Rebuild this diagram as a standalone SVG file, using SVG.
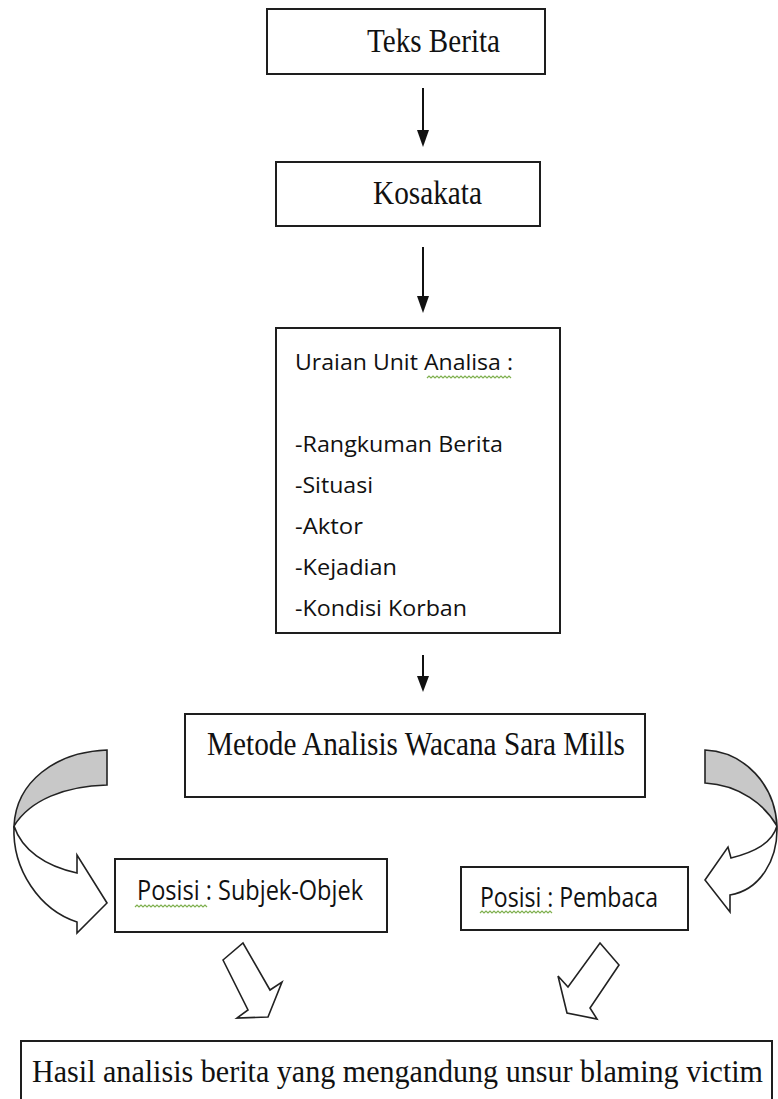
<svg xmlns="http://www.w3.org/2000/svg" width="778" height="1099" viewBox="0 0 778 1099">
<style>
.box{fill:#fff;stroke:#1e1e1e;stroke-width:2}
.serif{font-family:"Liberation Serif","Times New Roman",serif;font-size:29px;fill:#111}
.sans{font-family:"Open Sans","Liberation Sans",sans-serif;font-size:21px;fill:#111}
.sans2{font-family:"Open Sans","Liberation Sans",sans-serif;font-size:28px;fill:#111}
.conn{stroke:#111;stroke-width:2;fill:none}
.head{fill:#111}
.shape{stroke:#222;stroke-width:1.6;stroke-linejoin:miter}
.wavy{stroke:#7fb04f;stroke-width:1.2;fill:none}
</style>
<rect width="778" height="1099" fill="#fff"/>
<g id="node-teks-berita">
<rect class="box" x="267" y="9" width="278" height="65"/>
<text class="serif" transform="translate(367,52) scale(1,1.18)" textLength="133" lengthAdjust="spacingAndGlyphs">Teks Berita</text>
</g>
<g id="node-kosakata">
<rect class="box" x="276" y="162" width="264" height="64"/>
<text class="serif" transform="translate(373,204) scale(1,1.15)" textLength="109" lengthAdjust="spacingAndGlyphs">Kosakata</text>
</g>
<g id="node-uraian">
<rect class="box" x="276" y="328" width="284" height="305"/>
<text class="sans" x="295" y="370" textLength="218" lengthAdjust="spacingAndGlyphs">Uraian Unit Analisa :</text>
<path class="wavy" d="M427,378 l2,-2 l2,2 l2,-2 l2,2 l2,-2 l2,2 l2,-2 l2,2 l2,-2 l2,2 l2,-2 l2,2 l2,-2 l2,2 l2,-2 l2,2 l2,-2 l2,2 l2,-2 l2,2 l2,-2 l2,2 l2,-2 l2,2 l2,-2 l2,2 l2,-2 l2,2 l2,-2 l2,2 l2,-2 l2,2 l2,-2 l2,2 l2,-2 l2,2 l2,-2 l2,2 l2,-2 l2,2 l2,-2 l2,2"/>
<text class="sans" x="295" y="452" textLength="208" lengthAdjust="spacingAndGlyphs">-Rangkuman Berita</text>
<text class="sans" x="295" y="493" textLength="78" lengthAdjust="spacingAndGlyphs">-Situasi</text>
<text class="sans" x="295" y="534" textLength="68" lengthAdjust="spacingAndGlyphs">-Aktor</text>
<text class="sans" x="295" y="575" textLength="102" lengthAdjust="spacingAndGlyphs">-Kejadian</text>
<text class="sans" x="295" y="616" textLength="172" lengthAdjust="spacingAndGlyphs">-Kondisi Korban</text>
</g>
<g id="node-metode">
<rect class="box" x="185" y="714" width="460" height="83"/>
<text class="serif" transform="translate(207,755) scale(1,1.15)" textLength="418" lengthAdjust="spacingAndGlyphs">Metode Analisis Wacana Sara Mills</text>
</g>
<g id="node-subjek-objek">
<rect class="box" x="115" y="859" width="272" height="73"/>
<text class="sans2" x="137" y="900" textLength="226" lengthAdjust="spacingAndGlyphs">Posisi : Subjek-Objek</text>
<path class="wavy" d="M135,907 l2,-2 l2,2 l2,-2 l2,2 l2,-2 l2,2 l2,-2 l2,2 l2,-2 l2,2 l2,-2 l2,2 l2,-2 l2,2 l2,-2 l2,2 l2,-2 l2,2 l2,-2 l2,2 l2,-2 l2,2 l2,-2 l2,2 l2,-2 l2,2 l2,-2 l2,2 l2,-2 l2,2 l2,-2 l2,2 l2,-2 l2,2 l2,-2 l2,2"/>
</g>
<g id="node-pembaca">
<rect class="box" x="461" y="867" width="227" height="63"/>
<text class="sans2" x="480" y="907" textLength="178" lengthAdjust="spacingAndGlyphs">Posisi : Pembaca</text>
<path class="wavy" d="M480,913 l2,-2 l2,2 l2,-2 l2,2 l2,-2 l2,2 l2,-2 l2,2 l2,-2 l2,2 l2,-2 l2,2 l2,-2 l2,2 l2,-2 l2,2 l2,-2 l2,2 l2,-2 l2,2 l2,-2 l2,2 l2,-2 l2,2 l2,-2 l2,2 l2,-2 l2,2 l2,-2 l2,2 l2,-2 l2,2 l2,-2 l2,2 l2,-2 l2,2"/>
</g>
<g id="node-hasil">
<rect class="box" x="21" y="1041" width="751" height="70"/>
<text class="serif" transform="translate(32,1082) scale(1,1.12)" textLength="731" lengthAdjust="spacingAndGlyphs">Hasil analisis berita yang mengandung unsur blaming victim</text>
</g>
<g id="connectors">
<line class="conn" x1="423" y1="88" x2="423" y2="132"/>
<polygon class="head" points="417,130 429,130 423,147"/>
<line class="conn" x1="423" y1="247" x2="423" y2="298"/>
<polygon class="head" points="417,296 429,296 423,313"/>
<line class="conn" x1="423" y1="655" x2="423" y2="678"/>
<polygon class="head" points="417,676 429,676 423,692"/>
<g id="curved-left">
<path class="shape" fill="#c8c8c8" d="M107,750 C55,752 16,782 14,826 C30,800 65,786 107,785 Z"/>
<path class="shape" fill="#fff" d="M14,826 C12,870 40,910 77,922 L77,933 L107,903 L77,855 L77,873 C45,866 22,850 14,826 Z"/>
</g>
<g id="curved-right">
<path class="shape" fill="#c8c8c8" d="M705,750 C745,752 775,785 777,826 C765,805 740,785 705,783 Z"/>
<path class="shape" fill="#fff" d="M777,826 C778,860 760,890 730,895 L730,912 L705,880 L728,847 L731,858 C755,852 772,843 777,826 Z"/>
</g>
<polygon class="shape" fill="#fff" points="223,960 243,943 270,990 282,982 268,1017 237,1018 248,1010"/>
<polygon class="shape" fill="#fff" points="600,943 619,965 590,1008 597,1019 567,1013 558,976 568,987"/>
</g>
</svg>
